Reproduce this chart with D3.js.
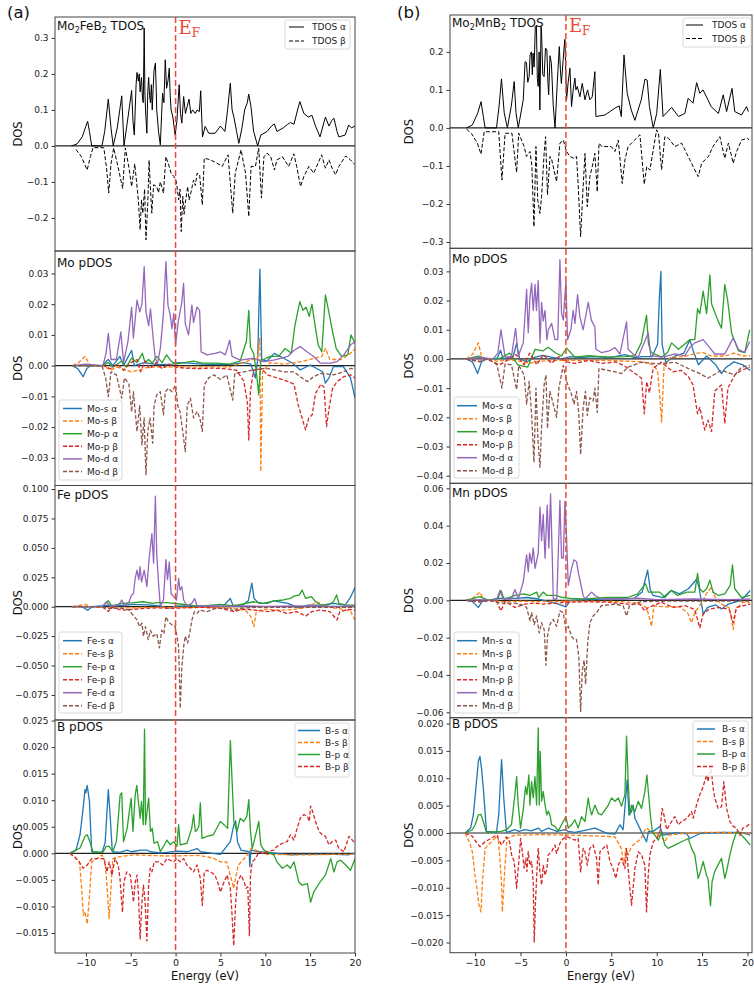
<!DOCTYPE html>
<html><head><meta charset="utf-8">
<script src="https://cdn.jsdelivr.net/npm/d3@7"></script>
<style>body{margin:0;background:#fff}svg text{font-family:"DejaVu Sans",sans-serif}</style>
</head><body><svg id="c" width="754" height="985"></svg>
<script>
// ---------------- DATA (energy eV, DOS) ----------------
const energyTicks = [-10,-5,0,5,10,15,20];

// (a) Mo2FeB2
const aTdosUp=[[-11.6,0],[-11,0.005],[-10.4,0.025],[-10.0,0.055],[-9.8,0.068],[-9.6,0.04],[-9.35,0],[-8.2,0],[-7.9,0.04],[-7.5,0.13],[-7.2,0.05],[-6.95,0],[-6.5,0.05],[-6.0,0.139],[-5.75,0],[-5.3,0.08],[-4.9,0.154],[-4.75,0.07],[-4.6,0.03],[-4.4,0.17],[-4.3,0.204],[-4.15,0.18],[-4.05,0.2],[-3.95,0.15],[-3.8,0.19],[-3.68,0.13],[-3.6,0.12],[-3.5,0.327],[-3.42,0.15],[-3.35,0.1],[-3.2,0.035],[-3.1,0.15],[-3.0,0.19],[-2.9,0.14],[-2.8,0.12],[-2.7,0.17],[-2.6,0.1],[-2.5,0.16],[-2.4,0.21],[-2.25,0.23],[-2.15,0.15],[-2.1,0.1],[-1.9,0.04],[-1.7,0.003],[-1.55,0.09],[-1.45,0.146],[-1.3,0.12],[-1.15,0.239],[-1.0,0.16],[-0.85,0.18],[-0.7,0.216],[-0.6,0.14],[-0.5,0.1],[-0.3,0.08],[-0.05,0.03],[0.15,0.07],[0.4,0.17],[0.55,0.09],[0.7,0.063],[0.9,0.137],[1.1,0.09],[1.3,0.11],[1.5,0.13],[1.7,0.09],[1.9,0.1],[2.2,0.09],[2.4,0.1],[2.65,0.095],[2.8,0.153],[3.0,0.025],[3.3,0.054],[3.7,0.035],[4.4,0.035],[5.0,0.055],[5.5,0.04],[5.8,0.1],[6.1,0.174],[6.3,0.1],[6.5,0.08],[6.8,0.04],[7.05,0.007],[7.4,0.05],[7.7,0.1],[8.0,0.12],[8.15,0.144],[8.4,0.11],[8.7,0.04],[9.15,0],[9.5,0.03],[10.2,0.04],[10.7,0.055],[11.0,0.061],[11.3,0.04],[12.0,0.05],[12.5,0.06],[12.8,0.065],[13.2,0.06],[13.6,0.1],[13.85,0.123],[14.3,0.09],[14.8,0.08],[15.2,0.085],[15.6,0.055],[16.1,0.025],[16.7,0.08],[17.1,0.055],[17.4,0.07],[17.65,0.077],[18.0,0.04],[18.2,0.025],[18.9,0.03],[19.3,0.058],[19.6,0.05],[20,0.055]];
const aTdosDn=[[-11.1,-0.01],[-10.5,-0.03],[-9.85,-0.067],[-9.5,-0.03],[-9.2,-0.005],[-8.0,-0.005],[-7.7,-0.06],[-7.45,-0.131],[-7.2,-0.05],[-6.9,-0.006],[-6.4,-0.06],[-5.9,-0.118],[-5.6,-0.006],[-5.2,-0.06],[-4.9,-0.113],[-4.55,-0.05],[-4.15,-0.15],[-3.95,-0.233],[-3.8,-0.15],[-3.65,-0.187],[-3.45,-0.12],[-3.3,-0.261],[-3.1,-0.16],[-2.95,-0.04],[-2.8,-0.12],[-2.65,-0.187],[-2.45,-0.108],[-2.1,-0.113],[-1.9,-0.13],[-1.7,-0.1],[-1.35,-0.131],[-1.08,-0.03],[-0.8,-0.05],[-0.5,-0.076],[-0.2,-0.085],[0.1,-0.1],[0.34,-0.15],[0.5,-0.12],[0.63,-0.238],[0.8,-0.14],[0.95,-0.19],[1.08,-0.16],[1.35,-0.113],[1.5,-0.15],[1.7,-0.131],[2.0,-0.095],[2.2,-0.11],[2.4,-0.076],[2.68,-0.08],[2.98,-0.164],[3.2,-0.034],[3.9,-0.039],[4.6,-0.048],[5.2,-0.057],[5.85,-0.025],[6.37,-0.187],[6.65,-0.076],[7.3,-0.011],[7.8,-0.076],[8.16,-0.196],[8.42,-0.057],[8.9,-0.057],[9.27,-0.006],[9.57,-0.145],[9.85,-0.03],[10.2,-0.02],[10.6,-0.03],[11.02,-0.067],[11.3,-0.039],[11.9,-0.03],[12.6,-0.057],[13.18,-0.022],[13.5,-0.057],[13.93,-0.113],[14.3,-0.085],[14.86,-0.057],[15.4,-0.076],[16.28,-0.025],[16.7,-0.062],[17.1,-0.039],[17.45,-0.062],[17.84,-0.08],[18.2,-0.057],[18.96,-0.028],[19.5,-0.039],[20,-0.052]];

const aMoSUp=[[-11.5,0],[-10.9,-0.001],[-10.3,-0.0036],[-9.9,-0.001],[-9.5,0],[-8.2,0],[-7.5,0.002],[-7.0,0],[-6.2,0.003],[-5.8,0],[-4.9,0.005],[-4.6,0],[-3.5,0.001],[-2.0,0.0003],[-0.4,0.0005],[0.2,0.001],[1.5,0.0008],[3.0,0.0005],[5.0,0.0003],[6.5,0.0005],[7.6,0.001],[8.4,0.0005],[8.9,-0.004],[9.15,0.002],[9.4,0.0314],[9.6,0.002],[10.2,0.0015],[11.0,0.004],[12.0,0.0025],[13.1,0.0007],[13.9,-0.0014],[15.0,0.0002],[16.4,-0.002],[16.7,-0.0057],[17.1,-0.004],[17.6,-0.0003],[18.7,-0.0003],[19.5,-0.004],[20,-0.0106]];
const aMoSDn=[[-11.5,0],[-10.8,0.001],[-10.1,0.003],[-9.6,0.0005],[-9.3,0],[-8,0],[-7.3,-0.0015],[-6.5,-0.0005],[-5.5,-0.0015],[-4.9,-0.002],[-4.2,-0.0015],[-3,-0.0005],[-1,-0.0005],[0.5,-0.0003],[2,-0.0005],[4,-0.0003],[6,-0.0005],[7.5,0.001],[8.6,0.002],[9.1,0.002],[9.4,0.009],[9.5,-0.0344],[9.7,-0.002],[10.5,0.001],[12,0.0005],[13.5,0.001],[15,0.002],[16.3,0.003],[16.7,0.0056],[17.2,0.002],[17.8,0.002],[18.5,0.002],[19.5,0.004],[20,0.0055]];
const aMoPUp=[[-11.5,0],[-8.2,0],[-7.5,0.001],[-7,-0.0005],[-6,0.0015],[-5.5,-0.0005],[-4.9,0.0025],[-4.3,0.001],[-3.7,0.004],[-3.4,0.001],[-3.0,0.002],[-2.6,0.0008],[-2.1,0.003],[-1.5,0.001],[-1,0.0035],[-0.5,0.0015],[0,0.0005],[1,0.001],[2,0.0015],[3,0.0008],[4.5,0.0008],[6,0.0005],[7.2,0.0015],[7.9,0.008],[8.16,0.018],[8.35,0.006],[8.7,0.004],[9.0,-0.002],[9.27,-0.0095],[9.5,0.0015],[10.5,0.003],[11.5,0.003],[12.2,0.0056],[12.9,0.004],[13.3,0.013],[13.85,0.0208],[14.2,0.018],[14.55,0.019],[14.9,0.016],[15.2,0.02],[15.55,0.013],[15.9,0.0067],[16.3,0.0045],[16.7,0.023],[17.05,0.018],[17.5,0.011],[17.9,0.0056],[18.5,0.003],[19.2,0.0035],[19.55,0.01],[20,0.0073]];
const aMoPDn=[[-11.5,0],[-8,0],[-7.3,-0.001],[-6.5,0.0005],[-5.8,-0.0015],[-5,0.001],[-4.3,0.002],[-3.9,-0.002],[-3.4,0.0015],[-2.9,-0.001],[-2.2,0.001],[-1.5,-0.001],[-0.8,0.0005],[0,-0.0005],[1,-0.0008],[2.5,-0.001],[4,-0.0008],[5.5,-0.001],[6.8,-0.0015],[7.6,-0.005],[8.0,-0.012],[8.16,-0.0242],[8.35,-0.008],[8.7,-0.0015],[9.6,-0.001],[10.2,-0.003],[11.3,-0.004],[12.4,-0.005],[13.2,-0.006],[13.67,-0.0128],[14.1,-0.017],[14.49,-0.0209],[14.85,-0.017],[15.23,-0.016],[15.6,-0.009],[16.2,-0.006],[16.55,-0.007],[16.83,-0.0198],[17.1,-0.014],[17.5,-0.0074],[18.0,-0.0052],[18.75,-0.0036],[19.5,-0.003],[20,-0.004]];
const aMoDUp=[[-11.5,0],[-10,0.0005],[-8.1,0],[-7.75,0.004],[-7.5,0.0105],[-7.2,0.002],[-6.6,0.002],[-6.1,0.011],[-5.8,0.001],[-5.3,0.008],[-4.9,0.019],[-4.7,0.009],[-4.3,0.0213],[-4.0,0.0175],[-3.75,0.02],[-3.5,0.0322],[-3.3,0.0175],[-3.0,0.013],[-2.8,0.0185],[-2.5,0.009],[-2.27,0.0024],[-2.0,0.0008],[-1.7,0.0056],[-1.35,0.017],[-1.08,0.0338],[-0.85,0.0197],[-0.6,0.0165],[-0.4,0.012],[-0.2,0.017],[0.0,0.0067],[0.3,0.0143],[0.7,0.0207],[0.89,0.0268],[1.08,0.0137],[1.45,0.01],[1.82,0.0197],[2.0,0.014],[2.38,0.019],[2.68,0.018],[2.85,0.0045],[3.5,0.0035],[4.4,0.004],[5.0,0.0045],[5.55,0.0035],[6.03,0.0083],[6.3,0.003],[7.2,0.0018],[8.7,0.0024],[9.8,0.0013],[10.9,0.0018],[11.7,0.0024],[12.5,0.003],[13.2,0.005],[13.9,0.0062],[14.65,0.0045],[15.4,0.003],[16.15,0.0008],[17.3,0.0008],[18.0,0.0013],[18.75,0.0035],[19.5,0.0067],[20,0.0078]];
const aMoDDn=[[-11.5,0],[-8.2,0],[-7.8,-0.004],[-7.5,-0.0101],[-7.2,-0.002],[-6.6,-0.003],[-6.0,-0.0106],[-5.7,-0.004],[-5.2,-0.006],[-4.9,-0.015],[-4.7,-0.0085],[-4.3,-0.0214],[-4.0,-0.013],[-3.75,-0.0258],[-3.5,-0.017],[-3.3,-0.0355],[-3.1,-0.0214],[-2.85,-0.017],[-2.55,-0.0252],[-2.4,-0.013],[-2.1,-0.0095],[-1.7,-0.0085],[-1.35,-0.016],[-1.15,-0.0085],[-0.8,-0.0074],[-0.4,-0.0085],[0,-0.0063],[0.25,-0.013],[0.5,-0.015],[0.8,-0.0214],[1.08,-0.028],[1.3,-0.013],[1.65,-0.0106],[2.0,-0.017],[2.4,-0.0149],[2.7,-0.017],[2.98,-0.0214],[3.2,-0.0063],[3.7,-0.004],[4.3,-0.003],[5.0,-0.0045],[5.7,-0.003],[6.37,-0.0112],[6.6,-0.0025],[7.6,-0.002],[8.7,-0.0014],[10.2,-0.0009],[12.1,-0.002],[13.2,-0.002],[13.9,-0.0036],[14.7,-0.0052],[15.4,-0.0036],[16.2,-0.0025],[17.6,-0.003],[18.75,-0.002],[19.5,-0.0009],[20,-0.001]];

const aFeSUp=[[-11.5,0],[-10.5,0.0005],[-9.8,-0.003],[-9.3,0],[-7.7,0.001],[-6,0.001],[-4.8,0.002],[-3.2,0.0015],[-1.7,0.0006],[-0.9,-0.0014],[0,0.0005],[1,0.0006],[3,0.0005],[5.3,0.0005],[6.1,0.007],[6.4,0.001],[7.5,0.0014],[8.1,0.005],[8.5,0.02],[8.75,0.007],[9.3,0.0028],[10.2,0.0028],[10.95,0.005],[12.5,0.0028],[13.9,-0.0014],[14.7,0.0014],[16.2,0.0014],[17.6,0.0028],[18.9,0.0014],[19.5,0.008],[20,0.0164]];
const aFeSDn=[[-11.5,0],[-10.1,0.002],[-9.4,0],[-7.5,-0.001],[-5,-0.001],[-3,-0.0005],[0,-0.0005],[3,-0.0005],[6,-0.001],[7.8,-0.003],[8.4,-0.0085],[8.72,-0.017],[9.0,-0.004],[10,-0.002],[11.5,-0.003],[13,-0.0025],[14.5,-0.001],[15.8,0.004],[16.5,0.0015],[17.5,-0.001],[18.5,-0.002],[19.5,-0.004],[20,-0.0113]];
const aFePUp=[[-11.5,0],[-8.2,0],[-7.5,0.005],[-7.1,0.0005],[-6,0.0028],[-4.7,0.0034],[-3.6,0.0042],[-2.6,0.0028],[-2.0,0.0034],[-1,0.0034],[0.5,0.0023],[2,0.0008],[3,0.0006],[5,0.002],[6.5,0.0006],[8.7,0.0042],[9.8,0.0028],[11.0,0.005],[12.0,0.0057],[12.8,0.007],[13.2,0.009],[13.8,0.01],[14.1,0.0142],[14.5,0.007],[15.15,0.0085],[15.6,0.0042],[16.2,0.0014],[17.0,0.0014],[17.6,0.0042],[17.95,0.01],[18.2,0.0028],[19,0.0014],[20,0.0014]];
const aFePDn=[[-11.5,0],[-8.2,0],[-7.5,-0.004],[-7.1,-0.0005],[-6,-0.003],[-4.8,-0.0023],[-3.5,-0.0015],[-2,-0.001],[-0.5,-0.0015],[1,-0.001],[3,-0.0005],[5,-0.0014],[6.5,-0.0042],[7.5,-0.002],[8.7,-0.0028],[10.2,-0.0042],[11.3,-0.003],[12.4,-0.0057],[13.5,-0.0042],[14.5,-0.008],[15.2,-0.0042],[16.1,-0.0028],[17.2,-0.0042],[18.0,-0.0113],[18.3,-0.0042],[19.3,-0.0023],[20,-0.0028]];
const aFeDUp=[[-11.5,0],[-8.2,0],[-7.7,0.004],[-7.3,0.0005],[-6.4,0.001],[-6.0,0.0057],[-5.7,0.0005],[-5.2,0.004],[-4.9,0.01],[-4.7,0.011],[-4.5,0.024],[-4.3,0.031],[-4.1,0.023],[-3.95,0.034],[-3.8,0.021],[-3.5,0.031],[-3.2,0.017],[-2.95,0.041],[-2.64,0.062],[-2.45,0.037],[-2.25,0.094],[-2.1,0.045],[-1.9,0.02],[-1.7,0.0006],[-1.35,0.0057],[-1.08,0.04],[-0.9,0.023],[-0.7,0.038],[-0.5,0.011],[-0.2,0.0085],[0.1,0.0057],[0.34,0.024],[0.5,0.014],[0.7,0.017],[0.9,0.0057],[1.3,0.0006],[1.8,0.0028],[2.12,0.007],[2.4,0.0006],[4,0.0006],[6,0.0003],[8,0.0006],[10,0.0003],[14,0.0006],[18,0.0003],[20,0.0006]];
const aFeDDn=[[-11.5,0],[-8.2,0],[-7.5,-0.0015],[-6.0,-0.0015],[-5.2,-0.0028],[-4.9,-0.0057],[-4.6,-0.0085],[-4.32,-0.011],[-4.0,-0.017],[-3.75,-0.014],[-3.58,-0.025],[-3.35,-0.017],[-3.05,-0.028],[-2.8,-0.02],[-2.5,-0.025],[-2.1,-0.023],[-1.8,-0.035],[-1.55,-0.02],[-1.3,-0.023],[-1.08,-0.0085],[-0.8,-0.0127],[-0.4,-0.0156],[-0.05,-0.017],[0.15,-0.025],[0.34,-0.034],[0.52,-0.0864],[0.7,-0.051],[0.9,-0.034],[1.08,-0.025],[1.34,-0.031],[1.63,-0.02],[1.82,-0.0113],[2.1,-0.0042],[2.4,-0.0057],[2.68,-0.0028],[3.5,-0.0042],[4.5,-0.0014],[6.1,-0.0014],[6.48,-0.004],[7.0,-0.0014],[9,-0.0006],[14,-0.0006],[20,-0.0006]];

const aBSUp=[[-11.8,0],[-11.1,0.0006],[-10.65,0.0035],[-10.3,0.0085],[-10.1,0.012],[-10.0,0.0114],[-9.85,0.0128],[-9.6,0.0098],[-9.35,0.0003],[-8.2,0.0002],[-7.85,0.002],[-7.5,0.012],[-7.3,0.0073],[-7.05,0.0003],[-6.2,0.0002],[-5.4,0.0006],[-4.9,0.0003],[-3.9,0.0006],[-3.2,0.0006],[-2.8,0.0003],[-1.7,0.0001],[-1,0.0002],[0.15,0.0004],[1.3,0.0003],[2.4,0.0009],[2.8,0.0003],[5.0,-0.0002],[6.1,0.0022],[6.5,0.0054],[6.7,0.0061],[6.9,0.0022],[7.3,0.0006],[8.2,0.0003],[8.27,-0.0025],[8.4,0.0006],[9.3,0.0003],[10.2,0.0002],[11.3,0],[12.8,-0.0003],[14,-0.0002],[16.2,-0.0002],[17.7,-0.0002],[19.2,-0.0003],[20,0]];
const aBSDn=[[-11.8,0],[-11.2,-0.0008],[-10.7,-0.0016],[-10.47,-0.0066],[-10.28,-0.0117],[-10.1,-0.011],[-9.85,-0.0133],[-9.65,-0.0092],[-9.35,-0.0016],[-8.2,-0.0003],[-7.85,-0.0016],[-7.6,-0.0073],[-7.41,-0.0123],[-7.2,-0.0066],[-7.0,-0.001],[-6.2,-0.0006],[-4.7,-0.0003],[-1,-0.0005],[2.7,-0.0004],[4.2,-0.0009],[5.0,-0.0016],[5.7,-0.0016],[6.1,-0.0041],[6.48,-0.0066],[6.75,-0.0041],[7.0,-0.0022],[8.0,-0.0003],[8.4,0.0009],[10.2,-0.0002],[14,-0.0003],[17.7,-0.0002],[20,-0.0002]];
const aBPUp=[[-11.8,0],[-11.1,0.0006],[-10.65,0.001],[-10.1,0.0032],[-9.85,0.0035],[-9.55,0.0022],[-9.2,0.0002],[-8.1,0.0002],[-7.75,0.0013],[-7.4,0.0013],[-7.0,0.0003],[-6.6,0.0022],[-6.18,0.011],[-6.0,0.0114],[-5.8,0.0022],[-5.4,0.0047],[-5.2,0.0073],[-4.95,0.0104],[-4.75,0.0041],[-4.5,0.011],[-4.32,0.0128],[-4.15,0.0098],[-3.95,0.0066],[-3.8,0.0098],[-3.6,0.0054],[-3.46,0.0234],[-3.35,0.0054],[-3.2,0.0076],[-3.0,0.0104],[-2.8,0.0041],[-2.6,0.0047],[-2.4,0.0019],[-2.0,0.0022],[-1.7,0.0003],[-1.35,0.0013],[-0.97,0.0025],[-0.6,0.0016],[-0.2,0.0022],[0.15,0.0013],[0.34,0.0054],[0.52,0.0016],[1.27,0.0019],[1.8,0.0047],[2.01,0.0073],[2.2,0.0041],[2.4,0.0044],[2.6,0.0051],[2.76,0.0095],[2.95,0.0028],[3.5,0.0032],[4.2,0.0035],[4.99,0.006],[5.4,0.0054],[5.8,0.0047],[6.11,0.0212],[6.3,0.0136],[6.5,0.006],[6.85,0.0041],[7.2,0.0066],[7.6,0.006],[7.95,0.007],[8.16,0.0101],[8.35,0.0041],[8.55,0.0009],[9.1,0.0047],[9.27,0.006],[9.5,0.0016],[9.85,0.0006],[10.2,0.0003],[10.95,-0.0003],[11.3,-0.0016],[11.9,-0.0028],[12.44,-0.0022],[12.8,-0.0028],[13.2,-0.0016],[13.74,-0.0054],[14.1,-0.006],[14.7,-0.0057],[15.05,-0.0092],[15.4,-0.0073],[16.1,-0.0054],[16.7,-0.0041],[17.3,-0.001],[17.65,-0.0035],[18.0,-0.0016],[18.4,-0.0013],[18.96,-0.0022],[19.5,-0.0032],[20,-0.001]];
const aBPDn=[[-11.8,0],[-11.3,-0.0006],[-10.75,-0.0016],[-10.3,-0.0028],[-9.85,-0.0022],[-9.35,-0.001],[-8.0,-0.001],[-7.65,-0.0035],[-7.4,-0.0016],[-7.1,-0.0041],[-6.75,-0.001],[-6.4,-0.0022],[-6.2,-0.0047],[-5.92,-0.0111],[-5.75,-0.0054],[-5.45,-0.0035],[-5.05,-0.0041],[-4.9,-0.006],[-4.69,-0.0092],[-4.5,-0.0054],[-4.3,-0.0041],[-4.15,-0.0073],[-3.95,-0.0161],[-3.75,-0.0092],[-3.58,-0.006],[-3.39,-0.0092],[-3.2,-0.0165],[-3.0,-0.006],[-2.83,-0.0028],[-2.64,-0.0035],[-2.38,-0.0016],[-1.9,-0.0016],[-1.45,-0.0022],[-0.97,-0.001],[-0.6,-0.0013],[-0.2,-0.0016],[0.15,-0.001],[0.52,-0.0016],[0.9,-0.001],[1.27,-0.0022],[1.64,-0.0028],[2.0,-0.0035],[2.4,-0.0022],[2.76,-0.0047],[2.98,-0.0098],[3.2,-0.0035],[3.5,-0.0032],[3.9,-0.0035],[4.4,-0.0041],[4.8,-0.006],[4.99,-0.0073],[5.4,-0.0054],[5.75,-0.0041],[6.1,-0.0066],[6.3,-0.0117],[6.48,-0.0174],[6.7,-0.0092],[6.9,-0.0054],[7.3,-0.0041],[7.65,-0.0054],[7.85,-0.0066],[8.05,-0.0063],[8.23,-0.0155],[8.35,-0.0041],[8.55,-0.0016],[8.9,-0.001],[9.3,0.0003],[9.65,0],[10.2,0.0003],[10.95,0.0006],[11.3,0.0013],[11.9,0.0019],[12.44,0.0022],[12.8,0.0035],[13.2,0.0025],[13.55,0.0047],[13.9,0.0066],[14.3,0.0073],[14.7,0.007],[14.9,0.006],[15.05,0.0089],[15.25,0.008],[15.6,0.006],[16.0,0.0041],[16.35,0.0035],[16.7,0.0032],[17.1,0.0016],[17.45,0.0022],[17.84,0.0025],[18.2,0.0009],[18.77,0.0003],[19.33,0.0032],[19.7,0.0025],[20,0.0019]];

// (b) Mo2MnB2
const bTdosUp=[[-10.95,0],[-10.3,0.008],[-9.7,0.04],[-9.35,0.069],[-9.1,0.03],[-8.9,0],[-7.65,0],[-7.35,0.06],[-7.1,0.129],[-6.8,0.04],[-6.45,0],[-6.0,0.06],[-5.7,0.122],[-5.5,0.04],[-5.25,0],[-4.7,0.074],[-4.5,0.174],[-4.35,0.172],[-4.2,0.12],[-4.05,0.135],[-3.95,0.192],[-3.8,0.2],[-3.7,0.14],[-3.62,0.197],[-3.5,0.16],[-3.37,0.267],[-3.25,0.27],[-3.15,0.13],[-3.05,0.109],[-2.95,0.2],[-2.87,0.047],[-2.74,0.267],[-2.68,0.25],[-2.55,0.14],[-2.4,0.135],[-2.25,0.21],[-2.1,0.205],[-1.98,0.12],[-1.9,0.087],[-1.75,0.19],[-1.6,0.17],[-1.4,0.06],[-1.2,0],[-0.95,0.12],[-0.73,0.214],[-0.6,0.15],[-0.5,0.117],[-0.3,0.18],[-0.15,0.226],[-0.11,0.233],[0.07,0.074],[0.25,0.12],[0.44,0.157],[0.62,0.056],[0.8,0.1],[0.99,0.131],[1.1,0.1],[1.25,0.109],[1.54,0.082],[1.8,0.117],[2.1,0.074],[2.38,0.1],[2.64,0.074],[2.9,0.082],[3.19,0.148],[3.3,0.03],[4.3,0.034],[5.4,0.052],[5.87,0.058],[6.1,0.03],[6.4,0.192],[6.75,0.091],[7.2,0.047],[7.6,0.02],[8.3,0.074],[8.7,0.128],[8.95,0.126],[9.2,0.056],[9.62,0],[10.0,0.038],[10.4,0.154],[10.7,0.03],[11.65,0.054],[12.4,0.03],[13.1,0.038],[13.47,0.078],[14.0,0.065],[14.4,0.119],[14.75,0.091],[15.1,0.1],[15.65,0.074],[16.0,0.056],[16.8,0.038],[17.33,0.087],[17.7,0.043],[18.3,0.104],[18.6,0.043],[19.35,0.034],[19.9,0.056],[20.1,0.043]];
const bTdosDn=[[-10.95,-0.003],[-10.4,-0.015],[-9.75,-0.04],[-9.36,-0.069],[-9.0,-0.01],[-7.4,-0.01],[-7.05,-0.137],[-6.7,-0.014],[-5.95,-0.014],[-5.43,-0.117],[-5.2,-0.014],[-4.6,-0.049],[-4.35,-0.075],[-3.96,-0.062],[-3.75,-0.1],[-3.52,-0.26],[-3.3,-0.049],[-3.1,-0.19],[-2.86,-0.225],[-2.68,-0.18],[-2.4,-0.067],[-2.24,-0.023],[-2.03,-0.176],[-1.75,-0.075],[-1.56,-0.084],[-1.03,-0.141],[-0.66,-0.04],[-0.29,-0.032],[0.07,-0.062],[0.44,-0.075],[0.88,-0.08],[1.17,-0.075],[1.35,-0.15],[1.62,-0.286],[1.9,-0.154],[2.1,-0.067],[2.35,-0.207],[2.64,-0.128],[2.9,-0.102],[3.19,-0.067],[3.45,-0.168],[3.65,-0.04],[3.95,-0.049],[5.0,-0.049],[5.4,-0.062],[5.77,-0.032],[6.2,-0.146],[6.5,-0.084],[6.85,-0.049],[8.15,-0.018],[8.63,-0.148],[8.9,-0.102],[9.25,-0.111],[9.99,-0.005],[10.2,-0.014],[10.54,-0.11],[10.9,-0.023],[11.3,-0.027],[12.0,-0.049],[12.75,-0.04],[13.65,-0.084],[14.57,-0.128],[14.95,-0.093],[15.7,-0.075],[16.2,-0.049],[16.96,-0.023],[17.5,-0.08],[17.9,-0.04],[18.43,-0.093],[18.8,-0.062],[19.35,-0.032],[20.0,-0.027],[20.2,-0.032]];

const bMoSUp=[[-11,0],[-10.3,-0.001],[-9.73,-0.005],[-9.3,-0.001],[-8.8,0],[-7.6,0],[-7.2,0.003],[-6.9,0],[-5.8,0.001],[-5.43,0.0053],[-5.1,0],[-4.3,-0.001],[-3.5,0.0005],[-2.5,0.0012],[-1.5,0.0005],[-0.5,0],[0.5,0.0008],[1.5,0.0005],[3,0.0008],[5,0.0005],[6.5,0.0015],[7.5,0.0005],[8.5,0.0008],[9.5,0.0008],[10.1,0.005],[10.3,0.021],[10.46,0.03],[10.6,0.005],[11,-0.0012],[12,0.001],[13.0,0.002],[13.65,0.0066],[14,0.003],[14.6,-0.002],[15.5,0.001],[16.5,-0.002],[17.14,-0.005],[17.6,-0.003],[18.5,-0.001],[19.5,-0.002],[20.3,-0.004]];
const bMoSDn=[[-11,0],[-10.3,0.0015],[-9.65,0.0055],[-9.3,0.001],[-8.8,0],[-7.5,-0.0008],[-6.5,-0.0003],[-5.5,-0.0005],[-4.0,-0.0015],[-3.0,-0.0008],[-1,-0.0005],[1,-0.0005],[3,-0.0005],[5,-0.0005],[7,-0.0008],[8.5,-0.001],[9.6,-0.002],[10.1,-0.004],[10.35,-0.013],[10.54,-0.0216],[10.8,-0.003],[11.5,0.0005],[13,0.0008],[14.5,0.002],[15.1,0.0022],[16,0.001],[17.5,0.001],[18.5,0.002],[19.5,0.001],[20.3,0.0011]];
const bMoPUp=[[-11,0],[-9.6,0.001],[-8.8,0],[-7.2,0.0003],[-6.2,0.002],[-5.3,-0.002],[-4.2,-0.0028],[-3.4,0.0033],[-2.5,0.0028],[-1.95,0.004],[-1.2,0.0022],[-0.5,0.001],[0.07,0.0037],[1.0,0.0006],[2.5,0.0011],[4.6,0.0006],[6.5,0.0008],[7.6,0.0011],[8.3,0.0055],[8.88,0.015],[9.1,0.005],[9.4,0.0022],[10.54,0.0006],[11.2,0.0022],[11.64,0.0055],[12.4,0.0033],[13.65,0.0066],[14.2,0.0066],[14.5,0.0172],[14.75,0.0155],[15.12,0.0232],[15.5,0.0155],[15.86,0.0288],[16.05,0.0188],[16.8,0.0127],[17.14,0.0105],[17.5,0.0255],[17.8,0.0205],[18.25,0.0089],[19.0,0.0028],[19.7,0.0022],[20.25,0.01]];
const bMoPDn=[[-11,0],[-9.5,-0.001],[-8.8,0],[-7.3,-0.002],[-6.5,-0.0005],[-5.5,0.0015],[-4.6,-0.002],[-4,0.002],[-3.2,-0.002],[-2.5,0.0015],[-1.6,-0.0015],[-0.8,0.0008],[0,-0.001],[1,-0.0015],[2.5,-0.0005],[4,-0.0015],[5.5,-0.001],[6.5,-0.0025],[7.4,-0.0045],[8.33,-0.0066],[8.63,-0.0188],[8.9,-0.0078],[9.2,-0.0116],[9.6,-0.0033],[10.5,-0.0011],[11.8,-0.0044],[12.7,-0.0039],[13.5,-0.0061],[14.0,-0.0089],[14.5,-0.0188],[14.75,-0.0166],[15.3,-0.0244],[15.65,-0.021],[16.04,-0.0249],[16.4,-0.011],[17.14,-0.0089],[17.5,-0.0221],[17.85,-0.01],[18.6,-0.0055],[19.35,-0.0039],[20.25,-0.0028]];
const bMoDUp=[[-11,0],[-9.5,0.0005],[-8,0],[-7.5,0.002],[-7.16,0.01],[-6.7,0.0006],[-6.0,0.0008],[-5.54,0.0105],[-5.25,0.001],[-4.7,0.0055],[-4.33,0.0238],[-4.15,0.009],[-3.96,0.021],[-3.78,0.026],[-3.6,0.0166],[-3.4,0.0255],[-3.25,0.0166],[-3.05,0.0268],[-2.85,0.0055],[-2.68,0.0194],[-2.5,0.013],[-2.3,0.0166],[-2.1,0.0066],[-1.94,0.01],[-1.57,0.0122],[-1.21,0.0066],[-0.9,0.0066],[-0.66,0.034],[-0.48,0.0155],[-0.29,0.0133],[0,0.0266],[0.18,0.0066],[0.55,0.01],[0.8,0.0166],[1.0,0.0122],[1.28,0.022],[1.54,0.0144],[1.9,0.01],[2.46,0.0194],[2.8,0.0133],[3.19,0.011],[3.3,0.0033],[3.9,0.0022],[4.8,0.0028],[5.4,0.0039],[5.95,0.0017],[6.68,0.0127],[6.85,0.0033],[7.4,0.0017],[7.95,0.0006],[9.07,0.0089],[9.35,0.0011],[10.54,0.0006],[11.3,0.0011],[12.0,0.0017],[13.1,0.0011],[13.65,0.0039],[14.2,0.0055],[15.12,0.0066],[15.7,0.0044],[16.4,0.0017],[17.5,0.0017],[18.43,0.0072],[19.0,0.0033],[19.7,0.0022],[20.25,0.006]];
const bMoDDn=[[-11,0],[-9.5,-0.0008],[-8.5,0],[-7.6,-0.002],[-7.05,-0.01],[-6.7,-0.0017],[-6.0,-0.002],[-5.43,-0.0105],[-5.2,-0.0022],[-4.6,-0.0055],[-4.33,-0.0155],[-4.05,-0.0077],[-3.78,-0.0188],[-3.52,-0.0354],[-3.3,-0.01],[-3.08,-0.0277],[-2.86,-0.0371],[-2.68,-0.0232],[-2.4,-0.0089],[-2.2,-0.0055],[-2.03,-0.0238],[-1.77,-0.0111],[-1.57,-0.0133],[-1.03,-0.02],[-0.77,-0.01],[-0.3,-0.0022],[0.07,-0.0077],[0.62,-0.0122],[0.9,-0.0155],[1.17,-0.0111],[1.42,-0.0188],[1.62,-0.0327],[1.9,-0.0166],[2.15,-0.0111],[2.35,-0.0194],[2.64,-0.0133],[3.0,-0.0144],[3.19,-0.01],[3.45,-0.0183],[3.64,-0.0033],[4.65,-0.0039],[6.13,-0.005],[6.85,-0.0028],[8.33,-0.0011],[10.2,-0.0017],[12.0,-0.0011],[13.5,-0.0033],[14.75,-0.005],[15.65,-0.0066],[17.14,-0.0039],[18.6,-0.0055],[19.35,-0.0028],[20.25,-0.0022]];

const bMnSUp=[[-11,0],[-10.3,-0.0007],[-9.65,-0.0038],[-9.2,-0.0005],[-8.5,0],[-7.3,0.001],[-5.5,0.001],[-4.3,0.0015],[-3,0.0007],[-1,-0.0018],[0,-0.0035],[0.5,0],[2,0.0004],[4,0.0007],[6,0.0007],[7.5,0.001],[8.4,0.0044],[8.75,0.0113],[9.0,0.0162],[9.3,0.0055],[9.6,0.0026],[10.7,0.0015],[11.6,0.0053],[12.5,0.0035],[13.5,0.0062],[14.4,0.0113],[14.7,0.0062],[15.12,-0.0075],[15.6,-0.0038],[16.5,-0.0025],[17.14,-0.0047],[17.9,-0.002],[19.3,0],[20.0,0.0035],[20.3,0.0053]];
const bMnSDn=[[-11,0],[-10.3,0.001],[-9.47,0.0044],[-9.1,0.0005],[-8.5,0],[-7,-0.0007],[-5,-0.0005],[-3,-0.0007],[0,-0.0005],[3,-0.0005],[6,-0.0007],[8,-0.0015],[8.9,-0.004],[9.43,-0.0139],[9.7,-0.003],[11,-0.0035],[12.5,-0.0035],[13.4,-0.0066],[13.84,-0.012],[14.2,-0.0066],[15,-0.001],[15.6,0.0045],[16.04,0.007],[16.4,0.002],[17.1,-0.002],[18.0,-0.004],[18.43,-0.0157],[18.7,-0.005],[19.5,-0.001],[20.3,-0.0015]];
const bMnPUp=[[-11,0],[-9.5,0.002],[-8.5,0],[-7.5,0.001],[-7.16,0.0053],[-6.8,0.0005],[-5.6,0.0026],[-4.6,0.0035],[-4.0,0.0026],[-3.23,0.0044],[-3.0,0.0015],[-2.5,0.0044],[-2.1,0.0026],[-1.2,0.0026],[-0.3,0.0015],[0.5,0.001],[2,0.0008],[4.6,0.0015],[6.8,0.0015],[7.9,0.0035],[8.77,0.0089],[9.1,0.0044],[10.35,0.0044],[10.9,0.0015],[11.6,0.0053],[12.3,0.0026],[13.3,0.0044],[14.2,0.0044],[14.5,0.0144],[14.75,0.0062],[15.12,0.0044],[15.5,0.0062],[15.86,0.0108],[16.2,0.0044],[16.8,0.0026],[17.5,0.0035],[18.1,0.008],[18.35,0.019],[18.6,0.0062],[19.35,0.0015],[20.3,0.0026]];
const bMnPDn=[[-11,0],[-9.5,-0.001],[-8.5,0],[-7.6,-0.001],[-7.16,-0.0057],[-6.7,-0.0007],[-5.6,-0.0038],[-4.5,-0.002],[-3.5,-0.0015],[-2.5,-0.002],[-1,-0.0015],[0.5,-0.001],[2,-0.0008],[4.6,-0.001],[6.8,-0.002],[8.1,-0.002],[8.7,-0.0057],[9.1,-0.0038],[10.5,-0.001],[11.8,-0.0038],[13.2,-0.0029],[14.2,-0.005],[14.76,-0.0148],[15.1,-0.0075],[15.8,-0.0047],[17.0,-0.0038],[18.0,-0.005],[18.43,-0.012],[18.8,-0.0038],[20.3,-0.002]];
const bMnDUp=[[-11,0],[-9.5,0.0003],[-8,0],[-7.6,0.001],[-7.27,0.0053],[-6.9,0.0007],[-6.0,0.0007],[-5.62,0.0058],[-5.25,0.0007],[-4.7,0.0099],[-4.33,0.0244],[-4.15,0.0153],[-4.0,0.0253],[-3.78,0.0199],[-3.6,0.0281],[-3.4,0.0171],[-3.05,0.0253],[-2.86,0.05],[-2.68,0.032],[-2.5,0.046],[-2.3,0.0226],[-2.06,0.051],[-1.88,0.028],[-1.69,0.057],[-1.5,0.0226],[-1.39,0.0007],[-1.0,0.0007],[-0.66,0.0536],[-0.48,0.0226],[-0.29,0.0226],[-0.11,0.053],[0.07,0.0337],[0.26,0.008],[0.62,0.0171],[0.88,0.0217],[1.17,0.0207],[1.35,0.0153],[1.9,0.0026],[2.1,0.0007],[2.83,0.0044],[3.2,0.0026],[4.0,0.0007],[6,0.0007],[8,0.0011],[10,0.0004],[14,0.0007],[18,0.0004],[20.3,0.0007]];
const bMnDDn=[[-11,0],[-9.5,-0.0005],[-8.5,0],[-7.2,-0.0015],[-5.6,-0.0015],[-4.8,-0.0025],[-4.33,-0.0038],[-3.96,-0.011],[-3.78,-0.0066],[-3.49,-0.013],[-3.23,-0.0084],[-2.94,-0.0175],[-2.68,-0.012],[-2.39,-0.0157],[-2.2,-0.0348],[-2.03,-0.0193],[-1.77,-0.013],[-1.4,-0.0102],[-1.03,-0.0139],[-0.66,-0.0057],[-0.29,-0.0066],[0,-0.0157],[0.26,-0.0139],[0.62,-0.0193],[0.88,-0.021],[1.17,-0.021],[1.42,-0.0303],[1.62,-0.0595],[1.8,-0.038],[2.0,-0.0321],[2.17,-0.0449],[2.4,-0.023],[2.64,-0.012],[3.0,-0.0084],[3.38,-0.0066],[3.9,-0.0029],[5.4,-0.002],[6.3,-0.003],[6.68,-0.0084],[7.0,-0.0029],[8.3,-0.0007],[12,-0.0004],[20.3,-0.0004]];

const bBSUp=[[-11.1,0],[-10.5,0.0009],[-10.2,0.0033],[-9.95,0.0076],[-9.65,0.0131],[-9.47,0.014],[-9.3,0.0118],[-9.1,0.0082],[-8.75,0.0003],[-7.65,0.0001],[-7.4,0.0033],[-7.09,0.0134],[-6.85,0.0064],[-6.55,0.0001],[-5.6,0.0006],[-5.2,0.0003],[-4.5,0.0006],[-3.8,0.0004],[-3.0,0.0009],[-2.7,0.0003],[-2.3,0.0006],[-1.95,0.0009],[-1.0,0.0003],[-0.1,0.0006],[0.26,0.0003],[1.0,0.0001],[2.5,0.0006],[3.19,0.0009],[4.6,-0.0001],[5.4,-0.0002],[5.95,0.0015],[6.3,0.0006],[6.75,0.0097],[6.95,0.0033],[7.23,0.0039],[7.4,0.0051],[7.6,0.0027],[8.3,0.0003],[8.88,-0.0016],[9.1,0.0003],[9.6,0.0003],[10.35,0.0012],[10.7,-0.0004],[12,0],[13.3,-0.0001],[13.65,-0.001],[14.9,0],[17.5,0.0001],[19.3,0.0001],[20.3,-0.0004]];
const bBSDn=[[-11.1,0],[-10.6,-0.0018],[-10.3,-0.0035],[-10.02,-0.0077],[-9.8,-0.0101],[-9.58,-0.0132],[-9.36,-0.0144],[-9.2,-0.009],[-8.9,-0.0028],[-7.5,-0.0004],[-7.3,-0.004],[-7.1,-0.009],[-7.0,-0.0144],[-6.75,-0.007],[-6.5,-0.001],[-5.6,-0.0004],[-2.7,-0.0003],[1.0,-0.0004],[5.4,-0.0007],[6.1,-0.0028],[6.39,-0.0059],[6.6,-0.0028],[6.86,-0.004],[7.2,-0.0025],[8.3,-0.001],[8.7,0.0005],[8.88,0.0009],[9.4,0.0003],[10.2,-0.0003],[10.54,-0.0007],[10.9,-0.0016],[11.3,-0.0004],[12.7,-0.0001],[14.8,0.0001],[17.5,0.0001],[20.3,-0.0001]];
const bBPUp=[[-11.1,0],[-10.3,0.0006],[-10.0,0.0015],[-9.65,0.0033],[-9.36,0.0034],[-9.1,0.0021],[-8.75,0.0001],[-7.1,0.0003],[-6.55,0.0006],[-6.0,0.0015],[-5.62,0.007],[-5.43,0.0103],[-5.25,0.0051],[-5.0,0.0009],[-4.7,0.0043],[-4.45,0.0085],[-4.3,0.007],[-4.08,0.0106],[-3.96,0.0051],[-3.78,0.0094],[-3.6,0.0064],[-3.41,0.0103],[-3.23,0.0051],[-3.05,0.0192],[-2.94,0.0051],[-2.83,0.0149],[-2.68,0.0058],[-2.5,0.0076],[-2.3,0.0051],[-2.1,0.0033],[-1.95,0.004],[-1.76,0.0033],[-1.57,0.0015],[-1.21,0.0012],[-0.84,0.0004],[-0.48,0.0015],[0,0.003],[0.26,0.0009],[0.62,0.0015],[0.99,0.0024],[1.35,0.0009],[1.72,0.003],[2.1,0.0021],[2.46,0.0064],[2.64,0.0045],[2.83,0.0033],[3.19,0.0051],[3.56,0.0036],[3.92,0.0033],[4.3,0.0042],[4.67,0.0051],[5.03,0.0064],[5.4,0.0058],[5.77,0.0064],[6.13,0.0049],[6.5,0.007],[6.68,0.0177],[6.86,0.0094],[7.05,0.0033],[7.23,0.0051],[7.6,0.0039],[7.97,0.0058],[8.33,0.0045],[8.7,0.0076],[8.92,0.0106],[9.14,0.0064],[9.3,0.0033],[9.54,0.0001],[9.8,-0.0004],[10.17,-0.0013],[10.54,0],[10.9,-0.0022],[11.27,-0.0028],[11.64,-0.0025],[12.0,-0.0022],[12.37,-0.0019],[12.74,-0.0016],[13.47,-0.001],[13.84,-0.0028],[14.2,-0.004],[14.57,-0.0083],[14.83,-0.007],[15.12,-0.0052],[15.48,-0.0077],[15.65,-0.0083],[15.93,-0.0133],[16.1,-0.0089],[16.4,-0.007],[17.14,-0.0046],[17.5,-0.0083],[17.7,-0.007],[18.06,-0.004],[18.43,-0.0016],[18.8,0.0002],[19.16,-0.0001],[19.7,-0.001],[20.3,-0.0022]];
const bBPDn=[[-11.1,0],[-10.3,-0.0006],[-9.9,-0.0016],[-9.47,-0.0025],[-8.92,-0.0016],[-7.65,-0.0004],[-7.1,-0.0022],[-6.55,-0.0007],[-6.2,-0.0016],[-5.98,-0.004],[-5.7,-0.0052],[-5.43,-0.0101],[-5.25,-0.0064],[-4.99,-0.001],[-4.85,-0.0028],[-4.6,-0.0064],[-4.4,-0.0046],[-4.3,-0.007],[-4.15,-0.0034],[-3.96,-0.0059],[-3.78,-0.0052],[-3.6,-0.009],[-3.49,-0.0199],[-3.35,-0.0126],[-3.2,-0.0071],[-3.05,-0.0028],[-2.86,-0.0071],[-2.68,-0.0095],[-2.5,-0.0059],[-2.3,-0.0077],[-2.1,-0.0065],[-1.95,-0.004],[-1.57,-0.0034],[-1.21,-0.0022],[-1.03,-0.0037],[-0.66,-0.0019],[-0.29,-0.001],[0.07,-0.0007],[0.62,-0.001],[0.99,-0.0013],[1.35,-0.001],[1.62,-0.0071],[1.9,-0.0028],[2.1,-0.0034],[2.35,-0.0059],[2.64,-0.0028],[3.0,-0.0022],[3.19,-0.0034],[3.38,-0.0046],[3.56,-0.0095],[3.75,-0.0034],[4.1,-0.0028],[4.5,-0.0022],[4.85,-0.0052],[5.2,-0.0065],[5.5,-0.0083],[5.77,-0.0059],[6.13,-0.0046],[6.5,-0.0065],[6.68,-0.0028],[6.86,-0.0065],[7.05,-0.0101],[7.23,-0.0132],[7.4,-0.0101],[7.6,-0.0065],[7.97,-0.0034],[8.33,-0.004],[8.7,-0.0059],[8.88,-0.0144],[9.07,-0.0077],[9.25,-0.004],[9.62,-0.0016],[10.0,-0.001],[10.35,0.0002],[10.6,0.0045],[10.8,0.0033],[11.1,0.0006],[11.64,0.0021],[12.0,0.003],[12.37,0.0015],[12.74,0.0021],[13.1,0.0024],[13.47,0.003],[13.84,0.0039],[14.02,0.0027],[14.4,0.0052],[14.75,0.007],[15.12,0.0085],[15.5,0.0106],[15.65,0.0094],[15.97,0.0122],[16.22,0.0082],[16.4,0.0064],[16.77,0.0045],[17.14,0.0048],[17.4,0.0094],[17.7,0.0045],[18.06,0.0021],[18.43,0.0012],[18.8,0.0009],[19.16,-0.0004],[19.5,0.0009],[19.9,0.0012],[20.3,0.0018]];

const tdosTicksA=[-0.2,-0.1,0,0.1,0.2,0.3], tdosTicksB=[-0.3,-0.2,-0.1,0,0.1,0.2];
const moTicksA=[-0.03,-0.02,-0.01,0,0.01,0.02,0.03], moTicksB=[-0.04,-0.03,-0.02,-0.01,0,0.01,0.02,0.03];
const feTicks=[-0.075,-0.05,-0.025,0,0.025,0.05,0.075,0.1], mnTicks=[-0.06,-0.04,-0.02,0,0.02,0.04,0.06];
const bTicksA=[-0.015,-0.01,-0.005,0,0.005,0.01,0.015,0.02,0.025], bTicksB=[-0.02,-0.015,-0.01,-0.005,0,0.005,0.01,0.015,0.02];

// ---------------- STYLE / LAYOUT ----------------
const C={s:"#1f77b4",sb:"#ff7f0e",p:"#2ca02c",pb:"#d62728",d:"#9467bd",db:"#8c564b",k:"#000"};
const cols=[{x0:55,x1:355,dom:[-13.44,20],label:"(a)",lx:7,dosx:22},{x0:450,x1:752,dom:[-12.77,20.5],label:"(b)",lx:397,dosx:413}];
function pd(el,d){return [
 {n:el+"-s α",d:d[0],c:C.s,dash:false},{n:el+"-s β",d:d[1],c:C.sb,dash:true},
 {n:el+"-p α",d:d[2],c:C.p,dash:false},{n:el+"-p β",d:d[3],c:C.pb,dash:true},
 {n:el+"-d α",d:d[4],c:C.d,dash:false},{n:el+"-d β",d:d[5],c:C.db,dash:true}];}
function bd(d){return [{n:"B-s α",d:d[0],c:C.s,dash:false},{n:"B-s β",d:d[1],c:C.sb,dash:true},{n:"B-p α",d:d[2],c:C.p,dash:false},{n:"B-p β",d:d[3],c:C.pb,dash:true}];}
const panels=[
 {col:0,y0:17,y1:251,dom:[-0.292,0.358],ticks:tdosTicksA,fmt:".1f",title:["Mo","2","FeB","2"," TDOS"],tb:30,
  series:[{n:"TDOS α",d:aTdosUp,c:C.k,dash:false,w:1},{n:"TDOS β",d:aTdosDn,c:C.k,dash:true,w:1}],
  leg:{x:285,y:20,w:65,h:29,r0:27,st:14,l0:289,l1:304,tx:312}},
 {col:0,y0:251,y1:485.5,dom:[-0.039,0.0373],ticks:moTicksA,fmt:".2f",title:["Mo pDOS"],tb:267,
  series:pd("Mo",[aMoSUp,aMoSDn,aMoPUp,aMoPDn,aMoDUp,aMoDDn]),
  leg:{x:59,y:400,w:63,h:80,r0:408.5,st:12.6,l0:63,l1:82,tx:87}},
 {col:0,y0:485.5,y1:720,dom:[-0.0963,0.103],ticks:feTicks,fmt:".3f",title:["Fe pDOS"],tb:499,
  series:pd("Fe",[aFeSUp,aFeSDn,aFePUp,aFePDn,aFeDUp,aFeDDn]),
  leg:{x:59,y:632,w:63,h:81,r0:640.7,st:13,l0:63,l1:82,tx:87}},
 {col:0,y0:720,y1:953,dom:[-0.01876,0.0251],ticks:bTicksA,fmt:".3f",title:["B pDOS"],tb:731,bottom:true,
  series:bd([aBSUp,aBSDn,aBPUp,aBPDn]),
  leg:{x:295,y:723,w:54,h:54,r0:730.5,st:12,l0:298,l1:320,tx:325}},
 {col:1,y0:15,y1:248.3,dom:[-0.3166,0.297],ticks:tdosTicksB,fmt:".1f",title:["Mo","2","MnB","2"," TDOS"],tb:27,
  series:[{n:"TDOS α",d:bTdosUp,c:C.k,dash:false,w:1},{n:"TDOS β",d:bTdosDn,c:C.k,dash:true,w:1}],
  leg:{x:683,y:18,w:68,h:29,r0:25,st:13.5,l0:686,l1:703,tx:712}},
 {col:1,y0:248.3,y1:483.3,dom:[-0.0426,0.0379],ticks:moTicksB,fmt:".2f",title:["Mo pDOS"],tb:263,
  series:pd("Mo",[bMoSUp,bMoSDn,bMoPUp,bMoPDn,bMoDUp,bMoDDn]),
  leg:{x:454,y:397,w:65,h:81,r0:405.7,st:13,l0:457,l1:477,tx:482}},
 {col:1,y0:483.3,y1:717.7,dom:[-0.0629,0.0627],ticks:mnTicks,fmt:".2f",title:["Mn pDOS"],tb:497,
  series:pd("Mn",[bMnSUp,bMnSDn,bMnPUp,bMnPDn,bMnDUp,bMnDDn]),
  leg:{x:454,y:632,w:65,h:81,r0:640.7,st:13,l0:457,l1:477,tx:482}},
 {col:1,y0:717.7,y1:952.7,dom:[-0.02186,0.02106],ticks:bTicksB,fmt:".3f",title:["B pDOS"],tb:728,bottom:true,
  series:bd([bBSUp,bBSDn,bBPUp,bBPDn]),
  leg:{x:693,y:721,w:55,h:55,r0:729,st:12.5,l0:697,l1:715,tx:722}}
];

// ---------------- DRAW ----------------
const svg=d3.select("#c");
const defs=svg.append("defs");
const xs=cols.map(c=>d3.scaleLinear().domain(c.dom).range([c.x0,c.x1]));

panels.forEach((p,i)=>{
  const col=cols[p.col], x=xs[p.col];
  const y=d3.scaleLinear().domain(p.dom).range([p.y1,p.y0]);
  const g=svg.append("g");
  defs.append("clipPath").attr("id","clip"+i).append("rect")
    .attr("x",col.x0).attr("y",p.y0).attr("width",col.x1-col.x0).attr("height",p.y1-p.y0);
  const plot=g.append("g").attr("clip-path",`url(#clip${i})`);
  plot.append("line").attr("x1",col.x0).attr("x2",col.x1).attr("y1",y(0)).attr("y2",y(0))
    .attr("stroke","#222").attr("stroke-width",1.2);
  const line=d3.line().x(d=>x(d[0])).y(d=>y(d[1]));
  p.series.forEach(s=>{
    plot.append("path").datum(s.d).attr("d",line).attr("fill","none")
      .attr("stroke",s.c).attr("stroke-width",s.w||1.3).attr("stroke-linejoin","round")
      .attr("stroke-dasharray",s.dash?"4,2":null);
  });
  const ya=g.append("g").attr("transform",`translate(${col.x0},0)`)
    .call(d3.axisLeft(y).tickValues(p.ticks).tickFormat(d3.format(p.fmt)).tickSize(3.5).tickPadding(3));
  ya.select(".domain").remove();
  ya.selectAll("text").attr("font-size",9).attr("fill","#222").attr("font-family","DejaVu Sans");
  ya.selectAll("line").attr("stroke","#333");
  g.append("rect").attr("x",col.x0).attr("y",p.y0).attr("width",col.x1-col.x0).attr("height",p.y1-p.y0)
    .attr("fill","none").attr("stroke","#444").attr("stroke-width",1);
  g.append("text").attr("transform",`translate(${col.dosx},${(p.y0+p.y1)/2}) rotate(-90)`)
    .attr("text-anchor","middle").attr("font-size",11.5).attr("fill","#111").text("DOS");
  const t=g.append("text").attr("x",col.x0+2).attr("y",p.tb).attr("font-size",12).attr("fill","#111");
  if(p.title.length===1) t.text(p.title[0]);
  else {
    t.append("tspan").text(p.title[0]);
    t.append("tspan").attr("font-size",8).attr("dy",3).text(p.title[1]);
    t.append("tspan").attr("dy",-3).text(p.title[2]);
    t.append("tspan").attr("font-size",8).attr("dy",3).text(p.title[3]);
    t.append("tspan").attr("dy",-3).text(p.title[4]);
  }
  const L=p.leg;
  g.append("rect").attr("x",L.x).attr("y",L.y).attr("width",L.w).attr("height",L.h).attr("rx",2)
    .attr("fill","#fff").attr("fill-opacity",0.85).attr("stroke","#d0d0d0").attr("stroke-width",0.8);
  p.series.forEach((s,k)=>{
    const ry=L.r0+k*L.st;
    g.append("line").attr("x1",L.l0).attr("x2",L.l1).attr("y1",ry).attr("y2",ry)
      .attr("stroke",s.c).attr("stroke-width",s.w?1:1.5).attr("stroke-dasharray",s.dash?"4,2":null);
    g.append("text").attr("x",L.tx).attr("y",ry+3.2).attr("font-size",9).attr("fill","#222").text(s.n);
  });
  if(p.bottom){
    const xa=g.append("g").attr("transform",`translate(0,${p.y1})`)
      .call(d3.axisBottom(x).tickValues(energyTicks).tickFormat(d3.format("d")).tickSize(3.5).tickPadding(3));
    xa.select(".domain").remove();
    xa.selectAll("text").attr("font-size",9.5).attr("fill","#222").attr("font-family","DejaVu Sans");
    xa.selectAll("line").attr("stroke","#333");
    g.append("text").attr("x",(col.x0+col.x1)/2).attr("y",980).attr("text-anchor","middle")
      .attr("font-size",11.5).attr("fill","#111").text("Energy (eV)");
  }
});

cols.forEach((c,ci)=>{
  const ps=panels.filter(p=>p.col===ci);
  const xf=xs[ci](0);
  svg.append("line").attr("x1",xf).attr("x2",xf).attr("y1",ps[0].y0).attr("y2",ps[ps.length-1].y1)
    .attr("stroke","#ec4a34").attr("stroke-width",1.5).attr("stroke-dasharray","6,3");
  const t=svg.append("text").attr("x",xf+3).attr("y",ps[0].y0+17).attr("fill","#ec4a34")
    .attr("font-family","DejaVu Serif").attr("font-size",18);
  t.append("tspan").attr("font-family","DejaVu Serif").text("E");
  t.append("tspan").attr("font-family","DejaVu Serif").attr("font-size",12).attr("dy",3).text("F");
  svg.append("text").attr("x",c.lx).attr("y",18).attr("font-size",16.5).attr("fill","#111").text(c.label);
});
</script>
</body></html>
